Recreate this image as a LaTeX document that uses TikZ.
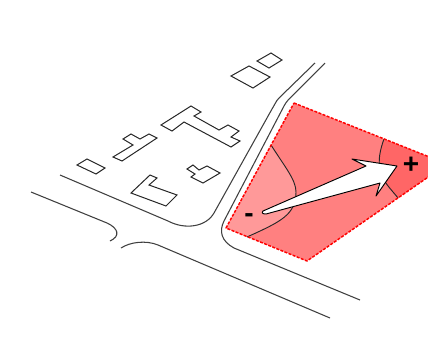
\documentclass[tikz,border=0pt]{standalone}
\usepackage{fontspec}
\setmainfont{Liberation Sans}
\tikzset{
  road/.style={draw=black!75,line width=0.8pt},
  bldg/.style={draw=black!85,line width=0.75pt,line join=miter},
  zone/.style={draw=black!85,line width=0.7pt},
  pole/.style={font=\bfseries\fontsize{21}{21}\selectfont,inner sep=0pt,text=black}
}
\begin{document}
\begin{tikzpicture}[x=0.75pt,y=-0.75pt]
\useasboundingbox (0,0) rectangle (428,340);
\begin{scope}
\clip (0,0) rectangle (428,340);
\coordinate (sT) at (294,103);
\coordinate (sR) at (447,164);
\coordinate (sB) at (307,261);
\coordinate (sL) at (226,228);
\fill[fill={rgb,255:red,255;green,128;blue,128}] (sT)--(sR)--(sB)--(sL)--cycle;
\fill[fill={rgb,255:red,255;green,153;blue,153}] (271,145) .. controls (285,167) and (296,180) .. (296,192) .. controls (296,215) and (280,222) .. (247,237) -- (sL) -- cycle;
\fill[fill={rgb,255:red,255;green,102;blue,102}] (384,139) .. controls (380,150) and (378,160) .. (380,170) .. controls (383,182) and (390,188) .. (398,198) -- (sR) -- cycle;
\draw[zone] (271,145) .. controls (285,167) and (296,180) .. (296,192) .. controls (296,215) and (280,222) .. (247,237);
\draw[zone] (384,139) .. controls (380,150) and (378,160) .. (380,170) .. controls (383,182) and (390,188) .. (398,198);
\draw[red,line width=1.1pt,dash pattern=on 2.2pt off 1.1pt,line join=round] (sT)--(sR)--(sB)--(sL)--cycle;
\draw[fill=white,draw=black,line width=0.7pt,line join=round] (263,211) -- (366,166) -- (352,159) -- (397,166) -- (376,196) -- (380,183) -- (266,214) .. controls (263,214) and (261,213) .. (263,211) -- cycle;
\node[pole] (minus) at (249,218) {-};
\node[pole] (plus) at (411,165) {+};
\draw[road] (315,63) -- (279,98) .. controls (276,101) and (274,106) .. (272,109) -- (214,213) .. controls (206,227) and (185,230) .. (168,221) -- (60,175);
\draw[road] (325,63) -- (292,96) .. controls (289,99) and (286,102) .. (284,106) -- (224,221) .. controls (219,231) and (221,241) .. (234,248) -- (360,300);
\draw[road] (31,192) -- (107,223) .. controls (118,228) and (121,236) .. (110,241);
\draw[road] (121,248) .. controls (130,242) and (146,240) .. (158,245) -- (330,318);
\draw[bldg] (271,53)--(282,60)--(269,68)--(257,61)--cycle;
\draw[bldg] (249,66)--(270,77)--(253,88)--(231,76)--cycle;
\draw[bldg] (191,106)--(201,112)--(194,116)--(219,130)--(228,125)--(239,131)--(231,137)--(240,141)--(231,147)--(184,122)--(172,131)--(161,125)--cycle;
\draw[bldg] (113,157)--(133,145)--(123,139)--(131,134)--(140,139)--(149,134)--(157,138)--(122,161)--cycle;
\draw[bldg] (87,159)--(105,168)--(96,174)--(77,165)--cycle;
\draw[bldg] (150,175)--(157,178)--(149,185)--(177,195)--(166,206)--(131,193)--cycle;
\draw[bldg] (187,169)--(193,165)--(199,170)--(207,166)--(220,173)--(203,183)--(191,177)--(195,174)--cycle;
\end{scope}
\end{tikzpicture}
\end{document}
